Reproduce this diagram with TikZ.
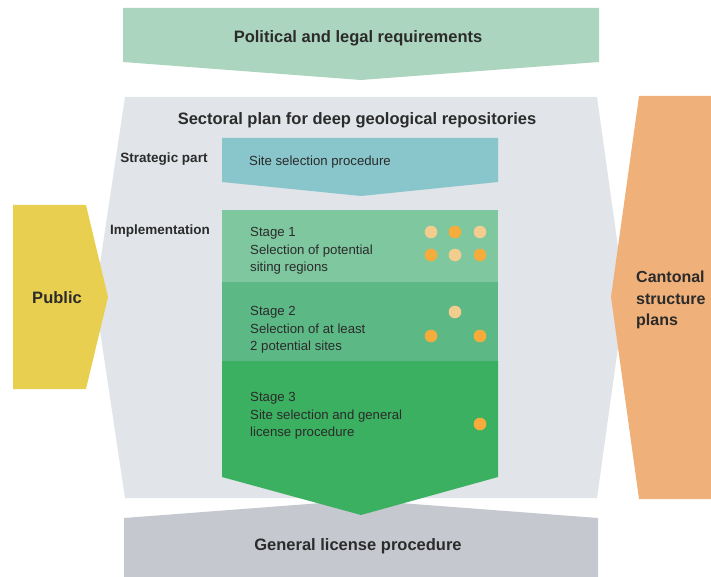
\documentclass[tikz,border=0pt]{standalone}
\usepackage{fontspec}
\setmainfont{Liberation Sans}
\definecolor{topgreen}{HTML}{ACD5BF}
\definecolor{plangray}{HTML}{E1E4E9}
\definecolor{stratblue}{HTML}{88C6CC}
\definecolor{stageone}{HTML}{7EC79F}
\definecolor{stagetwo}{HTML}{5CB985}
\definecolor{stagethree}{HTML}{3BB060}
\definecolor{pubyellow}{HTML}{E8CF50}
\definecolor{cantorange}{HTML}{F0B07A}
\definecolor{licgray}{HTML}{C5C8CF}
\definecolor{dotorange}{HTML}{F5AC3A}
\definecolor{dotlight}{HTML}{F2CD8E}
\definecolor{txt}{HTML}{2B2B2B}
\begin{document}
\begin{tikzpicture}[x=1pt,y=-1pt,
  title/.style={font=\bfseries\fontsize{16.5}{21.5}\selectfont,text=txt},
  side/.style={font=\bfseries\fontsize{13.5}{16}\selectfont,text=txt},
  body/.style={font=\fontsize{13.2}{17.2}\selectfont,text=txt,align=left,anchor=north west,inner sep=0pt},
  dotO/.style={fill=dotorange,draw=none},
  dotL/.style={fill=dotlight,draw=none}]
\useasboundingbox (0,0) rectangle (711,577);
% plan background
\fill[plangray] (125,97) -- (597,97) -- (625,297) -- (597,498) -- (125,498) -- (95,297) -- cycle;
% top arrow
\fill[topgreen] (123,8) -- (599,8) -- (599,62) -- (361,80) -- (123,62) -- cycle;
% bottom shape
\fill[licgray] (124,518) -- (361,500) -- (598,518) -- (598,577) -- (124,577) -- cycle;
% public
\fill[pubyellow] (13,205) -- (86,205) -- (108,297) -- (86,389) -- (13,389) -- cycle;
% cantonal
\fill[cantorange] (639,96) -- (711,96) -- (711,499) -- (639,499) -- (611,297) -- cycle;
% strategic
\fill[stratblue] (222,138) -- (498,138) -- (498,182) -- (361,196) -- (222,182) -- cycle;
% stages
\fill[stagethree] (222,361) -- (498,361) -- (498,477) -- (361,515) -- (222,477) -- cycle;
\fill[stagetwo] (222,282) rectangle (498,361);
\fill[stageone] (222,210) rectangle (498,282);
% dots
\foreach \x/\y/\s in {431/232/dotL,455/232/dotO,480/232/dotL,431/255/dotO,455/255/dotL,480/255/dotO,455/312/dotL,431/336/dotO,480/336/dotO,480/424/dotO}
  \fill[\s] (\x,\y) circle (6.3);
% texts
\node[title] (pol) at (358,38) {Political and legal requirements};
\node[title] (sec) at (357,120) {Sectoral plan for deep geological repositories};
\node[title] (gen) at (358,546) {General license procedure};
\node[side] (strat) at (164,159) {Strategic part};
\node[side] (impl) at (160,231) {Implementation};
\node[title] (pub) at (57,298) {Public};
\node[font=\bfseries\fontsize{16}{21.5}\selectfont,text=txt,align=left,anchor=west,inner sep=0pt] (cant) at (636,300) {Cantonal\\structure\\plans};
\node[body] (ssp) at (249,155.5) {Site selection procedure};
\node[body] (s1) at (250,227.5) {Stage 1\\Selection of potential\\siting regions};
\node[body] (s2) at (250,306.5) {Stage 2\\Selection of at least\\2 potential sites};
\node[body] (s3) at (250,392.5) {Stage 3\\Site selection and general\\license procedure};
\end{tikzpicture}
\end{document}
